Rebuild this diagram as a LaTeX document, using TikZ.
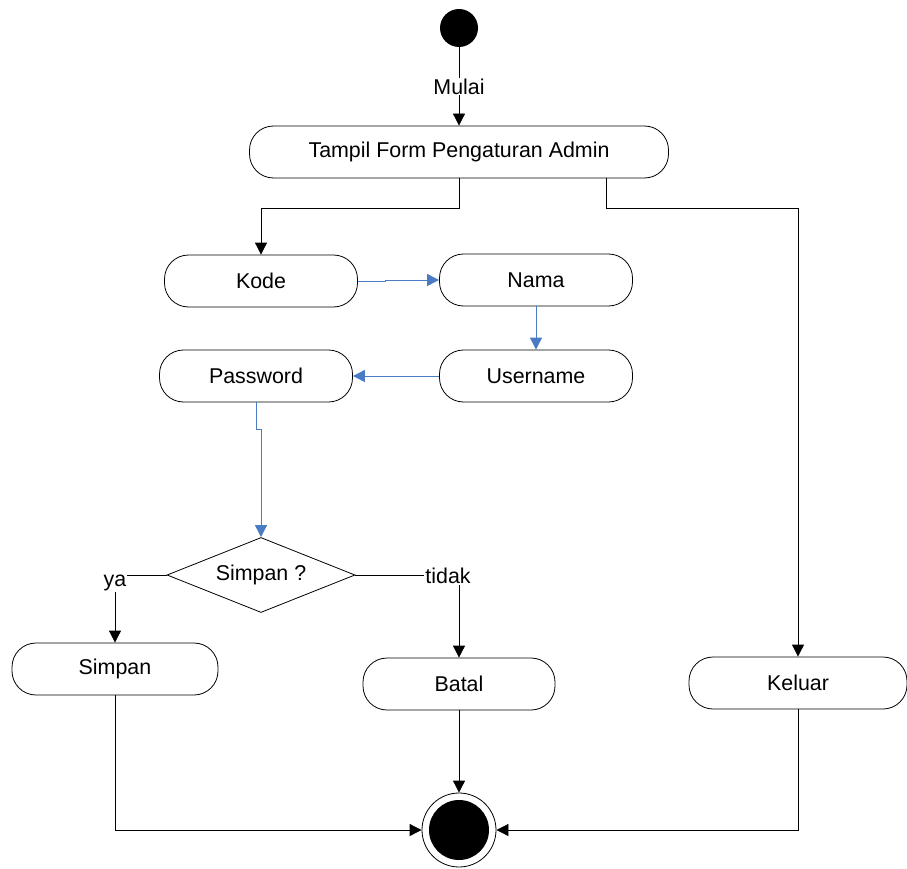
\documentclass[tikz,border=0pt]{standalone}
\usepackage{fontspec}
\setmainfont{Liberation Sans}
\usetikzlibrary{arrows.meta,shapes.geometric,calc}
\definecolor{flowblue}{HTML}{4A7CC6}
\tikzset{
  act/.style={draw, rounded corners=24pt, minimum height=52pt, inner sep=0pt, line width=0.8pt, font=\fontsize{21.4}{25}\selectfont},
  arr/.style={draw=black, line width=0.8pt, -{Triangle[length=12pt,width=12pt]}},
  barr/.style={draw=flowblue, line width=0.9pt, -{Triangle[length=12pt,width=12pt]}},
  lbl/.style={fill=white, inner sep=1pt, font=\fontsize{21.4}{25}\selectfont},
  dec/.style={draw, diamond, aspect=2.5, minimum width=188pt, minimum height=75pt, inner sep=0pt, line width=0.8pt, font=\fontsize{21.4}{25}\selectfont},
}
\begin{document}
\begin{tikzpicture}[x=1pt,y=-1pt]
\useasboundingbox (0,0) rectangle (907,869);
\node[circle, fill=black, minimum size=38pt, inner sep=0pt] (start) at (459,28) {};
\node[act, minimum width=419pt] (tampil) at (459,152) {Tampil Form Pengaturan Admin};
\node[act, minimum width=193pt] (kode) at (261,281) {Kode};
\node[act, minimum width=193pt] (nama) at (536,280) {Nama};
\node[act, minimum width=193pt] (username) at (536,376) {Username};
\node[act, minimum width=193pt] (password) at (256,376) {Password};
\node[dec] (decision) at (261,575) {Simpan ?};
\node[act, minimum width=206pt] (simpan) at (115,669) {Simpan};
\node[act, minimum width=192pt] (batal) at (459,684) {Batal};
\node[act, minimum width=218pt] (keluar) at (798,683) {Keluar};
\node[circle, draw, line width=0.8pt, minimum size=74pt, inner sep=0pt] (end) at (459,830) {};
\fill[black] (end.center) circle (30pt);

\draw[arr] (start) -- node[lbl]{Mulai} (tampil);
\draw[arr] (tampil.south) -- ++(0,30) -| (kode.north);
\draw[arr] ([xshift=147pt]tampil.south) -- ++(0,30) -| (keluar.north);
\draw[barr] (kode.east) -- ++(28,0) -- ++(0,-1) -- (nama.west);
\draw[barr] (nama.south) -- (username.north);
\draw[barr] (username.west) -- (password.east);
\draw[barr] (password.south) -- ++(0,27) -| (decision.north);
\draw[arr] (decision.west) -| node[lbl, pos=0.5, yshift=-8pt]{ya} (simpan.north);
\draw[arr] (decision.east) -| node[lbl, pos=0.5, xshift=-11pt, yshift=-1pt]{tidak} (batal.north);
\draw[arr] (simpan.south) |- (end.west);
\draw[arr] (batal.south) -- (end.north);
\draw[arr] (keluar.south) |- (end.east);
\end{tikzpicture}
\end{document}
